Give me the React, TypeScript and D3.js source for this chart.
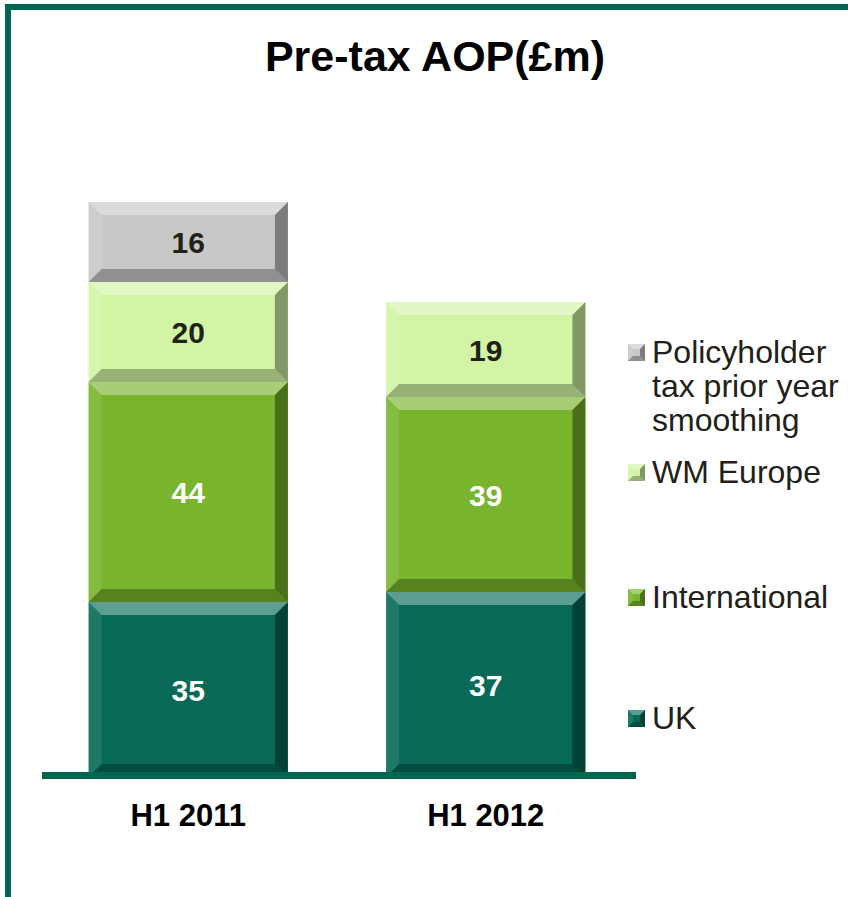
import * as d3 from "d3";

const periods = ["H1 2011", "H1 2012"];
const seriesNames = ["UK", "International", "WM Europe", "Policyholder tax prior year smoothing"];
const ukValues = [35, 37];
const internationalValues = [44, 39];
const wmEuropeValues = [20, 19];
const policyholderValues = [16, 0];
const legendLines = [["UK"], ["International"], ["WM Europe"], ["Policyholder", "tax prior year", "smoothing"]];

const colors = ["#066a57", "#78b42c", "#d1f5a5", "#c8c8c8"];
const labelColors = ["#ffffff", "#ffffff", "#222018", "#222018"];

const W = 848;
const H = 897;
const font = "Arial, 'Liberation Sans', sans-serif";

type Seg = { key: string; period: string; y0: number; y1: number; value: number; idx: number };

const Bevel = ({ x, y, w, h, fill, b }: { x: number; y: number; w: number; h: number; fill: string; b: number }) => {
  const pts = (arr: number[][]) => arr.map((p) => p.join(",")).join(" ");
  return (
    <g>
      <rect x={x} y={y} width={w} height={h} fill={fill} />
      <polygon points={pts([[x, y], [x + w, y], [x + w - b, y + b], [x + b, y + b]])} fill="#ffffff" opacity={0.35} />
      <polygon points={pts([[x, y], [x + b, y + b], [x + b, y + h - b], [x, y + h]])} fill="#ffffff" opacity={0.1} />
      <polygon points={pts([[x + w, y], [x + w, y + h], [x + w - b, y + h - b], [x + w - b, y + b]])} fill="#000000" opacity={0.38} />
      <polygon points={pts([[x, y + h], [x + b, y + h - b], [x + w - b, y + h - b], [x + w, y + h]])} fill="#000000" opacity={0.28} />
    </g>
  );
};

export default function App() {
  const y = d3.scaleLinear().domain([0, 115]).range([777, 202]);
  const x = d3.scaleBand<string>().domain(periods).range([38, 636]).paddingInner(0.33).paddingOuter(0.17);

  const table = periods.map((p, i) => ({
    period: p,
    UK: ukValues[i],
    International: internationalValues[i],
    "WM Europe": wmEuropeValues[i],
    "Policyholder tax prior year smoothing": policyholderValues[i],
  }));
  const stacked = d3.stack<any>().keys(seriesNames)(table);
  const segs: Seg[] = [];
  stacked.forEach((layer, idx) => {
    layer.forEach((d) => {
      const v = d[1] - d[0];
      if (v > 0) segs.push({ key: layer.key, period: d.data.period, y0: d[0], y1: d[1], value: v, idx });
    });
  });

  const legendY = [718, 597, 472, 352];

  return (
    <svg width={W} height={H} style={{ position: "absolute", left: 0, top: 0 }} fontFamily={font}>
      <rect width={W} height={H} fill="#ffffff" />
      {/* frame */}
      <rect x={5} y={4} width={W} height={6} fill="#006651" />
      <rect x={5} y={4} width={6} height={H} fill="#006651" />
      <text x={435} y={71} textAnchor="middle" fontSize={43} fontWeight="bold" fill="#000">
        Pre-tax AOP(£m)
      </text>

      {segs.map((s, i) => {
        const top = y(s.y1);
        const bot = y(s.y0);
        const h = bot - top;
        const bx = x(s.period)!;
        const bw = x.bandwidth();
        return (
          <g key={i}>
            <Bevel x={bx} y={top} w={bw} h={h} fill={colors[s.idx]} b={Math.min(13, h / 4)} />
            <text
              x={bx + bw / 2}
              y={(top + bot) / 2 + 11}
              textAnchor="middle"
              fontSize={30}
              fontWeight="bold"
              fill={labelColors[s.idx]}
            >
              {s.value}
            </text>
          </g>
        );
      })}

      <rect x={42} y={772} width={594} height={7} fill="#006651" />

      {periods.map((p) => (
        <text key={p} x={x(p)! + x.bandwidth() / 2} y={826} textAnchor="middle" fontSize={31} fontWeight="bold" fill="#000">
          {p}
        </text>
      ))}

      {seriesNames.map((n, i) => (
        <g key={n}>
          <Bevel x={628} y={legendY[i] - 8} w={17} h={17} fill={colors[i]} b={5} />
          {legendLines[i].map((line, j) => (
            <text key={j} x={652} y={legendY[i] + 11 + j * 34} fontSize={32} fill="#222018">
              {line}
            </text>
          ))}
        </g>
      ))}
    </svg>
  );
}
